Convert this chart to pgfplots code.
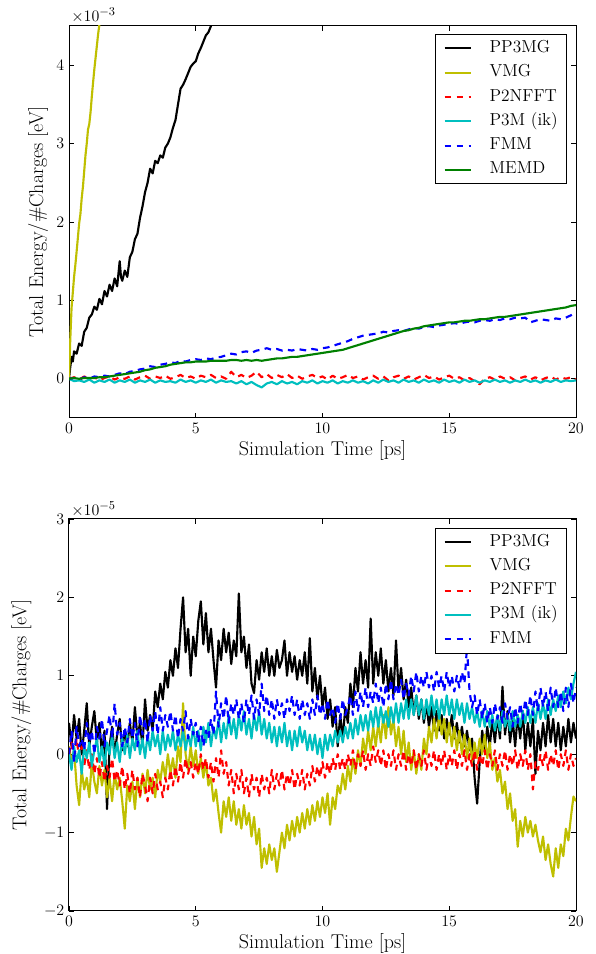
\documentclass[border=0pt]{standalone}
\usepackage{pgfplots}
\usepackage{pgfplotstable}
\pgfplotsset{compat=1.18}
\definecolor{mplk}{rgb}{0,0,0}
\definecolor{mply}{rgb}{0.75,0.75,0}
\definecolor{mplr}{rgb}{1,0,0}
\definecolor{mplc}{rgb}{0,0.75,0.75}
\definecolor{mplb}{rgb}{0,0,1}
\definecolor{mplg}{rgb}{0,0.5,0}

\pgfplotstableread{
t p2 p3m fmm memd
0.0 0.00 0.00 0.00 0.00
0.2 0.02 -0.03 0.01 0.01
0.4 -0.01 -0.02 -0.01 0.00
0.6 0.03 -0.04 0.02 0.01
0.8 0.00 -0.01 0.00 0.01
1.0 0.02 -0.05 0.03 0.01
1.2 -0.02 -0.02 0.02 0.02
1.4 0.01 -0.04 0.04 0.02
1.6 0.03 -0.01 0.03 0.03
1.8 -0.01 -0.05 0.05 0.04
2.0 0.02 -0.02 0.07 0.05
2.2 0.00 -0.04 0.06 0.06
2.4 0.03 -0.01 0.09 0.07
2.6 -0.01 -0.05 0.10 0.08
2.8 0.02 -0.02 0.12 0.09
3.0 0.04 -0.04 0.13 0.11
3.2 0.00 -0.01 0.16 0.12
3.4 0.03 -0.05 0.15 0.14
3.6 0.01 -0.02 0.18 0.15
3.8 0.04 -0.04 0.19 0.16
4.0 0.00 -0.03 0.21 0.18
4.2 0.02 -0.05 0.20 0.19
4.4 0.05 -0.01 0.23 0.20
4.6 0.01 -0.04 0.22 0.21
4.8 0.03 -0.02 0.24 0.21
5.0 0.00 -0.05 0.25 0.22
5.2 0.04 -0.02 0.24 0.22
5.4 0.02 -0.04 0.26 0.22
5.6 0.05 -0.01 0.25 0.23
5.8 0.01 -0.05 0.27 0.23
6.0 0.03 -0.02 0.28 0.23
6.2 0.00 -0.04 0.30 0.23
6.4 0.09 -0.03 0.32 0.24
6.6 0.02 -0.06 0.31 0.24
6.8 0.05 -0.03 0.34 0.23
7.0 0.01 -0.07 0.35 0.24
7.2 0.04 -0.04 0.33 0.23
7.4 0.09 -0.08 0.36 0.24
7.6 0.02 -0.11 0.37 0.23
7.8 0.06 -0.06 0.39 0.24
8.0 0.01 -0.04 0.37 0.25
8.2 0.05 -0.07 0.38 0.26
8.4 0.02 -0.03 0.36 0.26
8.6 0.06 -0.06 0.37 0.27
8.8 0.01 -0.04 0.36 0.28
9.0 0.04 -0.07 0.38 0.28
9.2 0.00 -0.03 0.37 0.29
9.4 0.03 -0.05 0.36 0.30
9.6 0.05 -0.02 0.38 0.31
9.8 0.01 -0.06 0.37 0.32
10.0 0.03 -0.03 0.39 0.33
10.2 -0.01 -0.05 0.40 0.34
10.4 0.04 -0.02 0.42 0.35
10.6 0.00 -0.06 0.44 0.36
10.8 0.02 -0.03 0.46 0.37
11.0 0.05 -0.05 0.48 0.39
11.2 0.01 -0.02 0.51 0.41
11.4 0.03 -0.05 0.53 0.43
11.6 -0.01 -0.03 0.55 0.45
11.8 0.02 -0.06 0.56 0.47
12.0 0.04 -0.02 0.57 0.49
12.2 0.00 -0.05 0.58 0.51
12.4 0.03 -0.01 0.60 0.53
12.6 -0.02 -0.04 0.59 0.55
12.8 0.02 -0.02 0.61 0.57
13.0 0.04 -0.05 0.62 0.59
13.2 0.00 -0.01 0.61 0.61
13.4 0.03 -0.04 0.63 0.62
13.6 -0.01 -0.02 0.65 0.64
13.8 0.02 -0.05 0.64 0.65
14.0 0.05 -0.01 0.66 0.67
14.2 0.01 -0.04 0.67 0.68
14.4 0.03 -0.02 0.66 0.69
14.6 -0.01 -0.05 0.68 0.70
14.8 0.02 -0.01 0.69 0.71
15.0 0.04 -0.04 0.70 0.72
15.2 0.00 -0.02 0.71 0.72
15.4 0.02 -0.05 0.70 0.73
15.6 -0.02 -0.01 0.72 0.74
15.8 0.01 -0.04 0.73 0.74
16.0 -0.03 -0.02 0.72 0.75
16.2 -0.07 -0.05 0.74 0.76
16.4 0.00 -0.02 0.75 0.76
16.6 0.02 -0.04 0.74 0.77
16.8 -0.01 -0.01 0.76 0.78
17.0 0.03 -0.04 0.75 0.79
17.2 0.00 -0.02 0.77 0.79
17.4 0.02 -0.05 0.76 0.80
17.6 -0.02 -0.02 0.78 0.81
17.8 0.01 -0.04 0.77 0.82
18.0 0.03 -0.01 0.78 0.83
18.2 -0.01 -0.04 0.72 0.84
18.4 0.02 -0.02 0.74 0.85
18.6 -0.02 -0.05 0.76 0.86
18.8 0.01 -0.02 0.75 0.87
19.0 0.03 -0.04 0.74 0.88
19.2 -0.01 -0.01 0.77 0.89
19.4 0.02 -0.04 0.76 0.90
19.6 0.00 -0.02 0.78 0.91
19.8 0.02 -0.03 0.81 0.93
20.0 -0.01 -0.02 0.85 0.94
}\topdata

\pgfplotstableread{
t pp
0 0
0.05 0.15
0.1 0.28
0.15 0.22
0.2 0.35
0.3 0.32
0.4 0.45
0.5 0.42
0.6 0.6
0.7 0.65
0.8 0.78
0.9 0.82
1.0 0.92
1.1 0.88
1.2 1.02
1.3 0.95
1.4 1.12
1.5 1.05
1.6 1.2
1.7 1.12
1.8 1.28
1.9 1.18
2.0 1.5
2.05 1.3
2.1 1.25
2.2 1.38
2.3 1.3
2.4 1.55
2.5 1.62
2.6 1.78
2.7 1.85
2.8 2.05
2.9 2.2
3.0 2.38
3.1 2.5
3.2 2.68
3.3 2.62
3.4 2.78
3.5 2.75
3.6 2.85
3.7 2.82
3.8 2.95
3.9 3.0
4.0 3.08
4.1 3.2
4.2 3.3
4.3 3.5
4.4 3.7
4.5 3.75
4.6 3.82
4.7 3.9
4.8 3.98
4.9 4.02
5.0 4.05
5.1 4.15
5.2 4.22
5.3 4.3
5.4 4.38
5.5 4.42
5.6 4.5
5.7 4.6
}\topblack

\pgfplotstableread{
t vmg
0 0
0.05 0.5
0.1 0.9
0.15 1.1
0.2 1.3
0.25 1.45
0.3 1.62
0.35 1.8
0.4 1.98
0.45 2.1
0.5 2.3
0.55 2.45
0.6 2.65
0.65 2.85
0.7 3.0
0.75 3.18
0.8 3.25
0.85 3.4
0.9 3.6
0.95 3.78
1.0 3.95
1.05 4.1
1.1 4.25
1.15 4.4
1.2 4.52
1.25 4.65
}\topyellow

\pgfplotstableread{
t pp vmg p2 p3m fmm
0.0 0.4 0.1 0.0 0.0 0.0
0.1 0.1 -0.1 0.15 -0.2 0.3
0.2 0.5 0.05 -0.1 0.1 -0.1
0.3 0.2 -0.4 0.2 -0.1 0.35
0.4 0.45 -0.65 -0.05 0.05 0.1
0.5 0.0 -0.2 0.1 -0.25 0.2
0.6 0.3 -0.45 -0.15 0.1 0.05
0.7 0.65 -0.3 0.05 -0.05 0.4
0.8 0.1 -0.55 -0.2 0.15 0.15
0.9 0.35 -0.1 0.0 -0.15 0.3
1.0 0.55 -0.35 -0.25 0.05 0.0
1.1 0.15 -0.5 -0.05 0.2 0.35
1.2 0.4 -0.15 -0.3 -0.1 0.2
1.3 0.0 -0.4 -0.1 0.1 0.45
1.4 0.3 -0.2 -0.35 -0.15 0.1
1.5 -0.7 -0.55 -0.15 0.15 0.3
1.6 0.1 -0.3 -0.3 0.0 0.5
1.7 0.35 -0.6 -0.05 0.25 0.2
1.8 0.0 -0.25 -0.35 -0.05 0.65
1.9 0.25 -0.45 -0.2 0.15 0.25
2.0 0.45 -0.3 -0.4 -0.1 0.4
2.1 0.05 -0.6 -0.15 0.2 0.1
2.2 0.3 -0.95 -0.45 0.0 0.35
2.3 0.1 -0.4 -0.25 0.25 0.15
2.4 0.4 -0.6 -0.5 -0.05 0.45
2.5 0.15 -0.35 -0.2 0.2 0.2
2.6 0.6 -0.7 -0.45 0.05 0.4
2.7 0.2 -0.3 -0.3 0.3 0.1
2.8 0.4 -0.55 -0.55 0.0 0.5
2.9 0.1 -0.25 -0.25 0.2 0.25
3.0 0.7 -0.5 -0.4 -0.05 0.45
3.1 0.3 -0.2 -0.6 0.25 0.15
3.2 0.5 -0.45 -0.3 0.05 0.5
3.3 0.3 -0.3 -0.5 0.3 0.3
3.4 0.8 -0.55 -0.25 0.1 0.55
3.5 0.6 -0.2 -0.45 0.25 0.25
3.6 0.9 -0.35 -0.35 0.0 0.6
3.7 0.7 -0.1 -0.55 0.3 0.3
3.8 1.05 -0.3 -0.3 0.05 0.5
3.9 0.85 0.0 -0.45 0.25 0.35
4.0 1.2 -0.25 -0.2 0.1 0.55
4.1 1.0 -0.05 -0.4 0.3 0.3
4.2 1.35 -0.3 -0.15 0.05 0.5
4.3 1.1 0.1 -0.35 0.25 0.2
4.4 1.6 -0.1 -0.1 0.1 0.45
4.5 2.0 0.65 -0.3 0.3 0.3
4.6 1.3 0.0 -0.05 0.05 0.55
4.7 1.6 -0.2 -0.25 0.25 0.2
4.8 1.0 0.1 -0.1 0.1 0.45
4.9 1.5 -0.15 -0.3 0.35 0.25
5.0 1.25 0.05 -0.1 0.1 0.4
5.1 1.7 -0.25 -0.25 0.3 0.15
5.2 1.95 -0.05 0.0 0.05 0.35
5.3 1.4 -0.3 -0.2 0.35 0.1
5.4 1.8 -0.1 -0.05 0.15 0.3
5.5 1.3 -0.4 -0.3 0.4 0.2
5.6 1.6 -0.3 -0.1 0.1 0.45
5.7 1.2 -0.6 -0.35 0.35 0.25
5.8 0.85 -0.45 -0.05 0.2 0.8
5.9 1.45 -0.75 -0.3 0.45 0.35
6.0 1.2 -1.0 0.05 0.15 0.65
6.1 1.6 -0.6 -0.25 0.4 0.45
6.2 1.3 -0.8 -0.1 0.2 0.75
6.3 1.55 -0.55 -0.4 0.5 0.4
6.4 1.15 -0.85 -0.2 0.25 0.65
6.5 1.45 -0.6 -0.5 0.45 0.5
6.6 1.25 -0.9 -0.25 0.2 0.7
6.7 2.05 -0.7 -0.45 0.5 0.45
6.8 1.3 -0.95 -0.2 0.3 0.65
6.9 1.5 -0.65 -0.5 0.55 0.4
7.0 1.1 -0.9 -0.3 0.25 0.7
7.1 1.4 -0.75 -0.55 0.45 0.5
7.2 0.9 -1.05 -0.25 0.2 0.75
7.3 0.78 -0.8 -0.45 0.5 0.45
7.4 1.2 -1.15 -0.3 0.3 0.7
7.5 0.95 -0.95 -0.55 0.55 0.5
7.6 1.3 -1.45 -0.25 0.25 0.9
7.7 1.05 -1.2 -0.45 0.45 0.55
7.8 1.35 -1.4 -0.3 0.2 0.75
7.9 1.0 -1.15 -0.5 0.4 0.5
8.0 1.25 -1.35 -0.2 0.15 0.7
8.1 1.0 -1.2 -0.45 0.35 0.45
8.2 1.33 -1.5 -0.25 0.1 0.7
8.3 1.1 -1.25 -0.4 0.35 0.5
8.4 1.2 -1.0 -0.2 0.15 0.65
8.5 1.45 -1.2 -0.45 0.4 0.45
8.6 1.0 -0.9 -0.25 0.1 0.7
8.7 1.3 -1.1 -0.4 0.3 0.55
8.8 1.05 -0.85 -0.2 0.05 0.75
8.9 1.25 -1.05 -0.45 0.3 0.5
9.0 0.95 -0.8 -0.25 0.1 0.7
9.1 1.2 -1.0 -0.4 0.35 0.45
9.2 1.0 -0.75 -0.2 0.15 0.7
9.3 1.3 -0.95 -0.45 0.3 0.5
9.4 0.9 -0.7 -0.25 0.05 0.65
9.5 1.48 -0.9 -0.4 0.25 0.45
9.6 0.8 -0.65 -0.15 0.05 0.7
9.7 1.1 -0.85 -0.35 0.25 0.5
9.8 0.7 -0.6 -0.15 0.0 0.75
9.9 1.0 -0.8 -0.3 0.2 0.5
10.0 0.6 -0.55 -0.1 -0.05 0.65
10.1 0.85 -0.75 -0.3 0.25 0.45
10.2 0.45 -0.5 -0.1 0.05 0.7
10.3 0.7 -0.9 -0.25 0.25 0.5
10.4 0.35 -0.55 -0.05 0.1 0.6
10.5 0.6 -0.7 -0.2 0.3 0.4
10.6 0.1 -0.4 0.0 0.15 0.65
10.7 0.5 -0.5 -0.2 0.3 0.45
10.8 0.2 -0.25 -0.05 0.15 0.7
10.9 0.6 -0.45 -0.2 0.35 0.5
11.0 0.4 -0.15 0.0 0.2 0.6
11.1 0.9 -0.35 -0.15 0.4 0.75
11.2 0.6 -0.05 0.05 0.2 0.5
11.3 1.1 -0.25 -0.2 0.45 0.8
11.4 0.8 0.05 0.0 0.25 0.55
11.5 1.3 -0.15 -0.15 0.5 0.8
11.6 0.9 0.2 0.05 0.3 0.6
11.7 1.2 0.0 -0.2 0.5 0.85
11.8 0.85 0.3 0.0 0.3 0.6
11.9 1.73 0.05 -0.15 0.55 0.8
12.0 0.9 0.35 0.1 0.35 0.65
12.1 1.3 0.1 -0.1 0.6 0.9
12.2 1.0 0.4 0.05 0.35 0.65
12.3 1.35 0.15 -0.15 0.6 0.85
12.4 0.9 0.5 0.05 0.4 0.6
12.5 1.2 0.2 -0.2 0.55 0.9
12.6 0.8 0.6 0.0 0.35 0.7
12.7 1.1 0.25 -0.15 0.6 0.95
12.8 0.75 0.45 0.05 0.4 0.7
12.9 1.45 0.1 -0.2 0.65 0.9
13.0 0.8 0.35 0.0 0.4 0.75
13.1 1.1 0.0 -0.15 0.65 0.95
13.2 0.7 0.3 0.05 0.45 0.7
13.3 0.95 -0.1 -0.2 0.7 0.9
13.4 0.6 0.15 0.0 0.45 0.75
13.5 0.85 -0.2 -0.15 0.7 1.0
13.6 0.5 0.05 0.05 0.5 0.8
13.7 0.75 -0.25 -0.2 0.75 1.05
13.8 0.45 0.0 0.0 0.5 0.8
13.9 0.7 -0.2 -0.15 0.7 1.0
14.0 0.4 0.2 0.05 0.45 0.85
14.1 0.65 0.0 -0.2 0.7 1.05
14.2 0.35 0.35 0.0 0.5 0.85
14.3 0.6 0.15 -0.15 0.75 1.0
14.4 0.3 0.45 0.05 0.5 0.8
14.5 0.55 0.2 -0.2 0.7 1.05
14.6 0.3 0.5 0.0 0.45 0.85
14.7 0.5 0.25 -0.15 0.7 1.0
14.8 0.2 0.45 0.05 0.5 0.8
14.9 0.45 0.15 -0.2 0.75 1.05
15.0 0.25 0.4 0.0 0.5 0.85
15.1 0.5 0.1 -0.15 0.7 1.0
15.2 0.2 0.35 0.05 0.45 0.8
15.3 0.4 0.05 -0.2 0.7 1.0
15.4 0.15 0.3 0.0 0.5 0.85
15.5 0.35 0.0 -0.15 0.65 1.05
15.6 0.1 0.25 0.05 0.4 0.9
15.7 0.3 -0.05 -0.2 0.65 1.37
15.8 0.05 0.2 0.0 0.45 0.8
15.9 0.2 -0.1 -0.15 0.6 0.6
16.0 -0.3 0.15 0.05 0.4 0.75
16.1 -0.63 -0.05 -0.2 0.55 0.5
16.2 -0.1 0.2 0.0 0.35 0.7
16.3 0.3 0.0 -0.15 0.55 0.45
16.4 0.05 0.25 0.05 0.35 0.65
16.5 0.35 -0.05 -0.2 0.55 0.4
16.6 0.1 0.15 0.0 0.35 0.6
16.7 0.45 -0.2 -0.15 0.5 0.4
16.8 0.15 -0.05 0.05 0.3 0.65
16.9 0.5 -0.35 -0.2 0.5 0.45
17.0 0.2 -0.2 0.0 0.3 0.6
17.1 0.86 -0.5 -0.15 0.55 0.4
17.2 0.25 -0.35 0.05 0.35 0.65
17.3 0.55 -0.7 -0.2 0.5 0.45
17.4 0.15 -0.5 0.0 0.3 0.6
17.5 0.45 -0.85 -0.15 0.55 0.35
17.6 0.1 -0.7 0.05 0.35 0.6
17.7 0.5 -1.18 -0.2 0.5 0.4
17.8 0.2 -0.85 0.0 0.35 0.65
17.9 0.55 -1.05 -0.15 0.55 0.45
18.0 0.05 -0.8 0.05 0.4 0.7
18.1 0.4 -1.0 -0.2 0.6 0.5
18.2 0.1 -0.85 0.0 0.4 0.75
18.3 0.45 -1.05 -0.45 0.6 0.5
18.4 -0.25 -0.9 -0.1 0.4 0.8
18.5 0.3 -1.1 -0.2 0.65 0.55
18.6 0.05 -1.25 0.0 0.45 0.85
18.7 0.4 -1.05 -0.15 0.65 0.6
18.8 0.1 -1.35 0.05 0.45 0.8
18.9 0.5 -1.15 -0.2 0.7 0.55
19.0 0.15 -1.4 0.0 0.5 0.85
19.1 0.45 -1.56 -0.15 0.7 0.6
19.2 0.1 -1.2 0.05 0.55 0.85
19.3 0.4 -1.45 -0.2 0.75 0.6
19.4 0.05 -1.15 0.0 0.6 0.8
19.5 0.35 -1.3 -0.15 0.8 0.55
19.6 0.1 -0.95 0.05 0.65 0.85
19.7 0.45 -1.1 -0.2 0.85 0.6
19.8 0.15 -0.8 0.0 0.7 0.9
19.9 0.4 -0.54 -0.15 0.9 0.65
20.0 0.2 -0.6 -0.05 1.05 0.85
}\bottomdata

\pgfplotsset{
  myaxis/.style={
    scale only axis,
    width=380.25pt, height=294pt,
    anchor=south west,
    clip mode=individual,
    xmin=0, xmax=20,
    xtick={0,5,10,15,20},
    tick align=inside,
    major tick length=3.5pt,
    axis line style={line width=0.75pt},
    tick style={line width=0.6pt, black},
    ticklabel style={font=\fontsize{12.5}{14}\selectfont},
    label style={font=\fontsize{15}{17}\selectfont, inner sep=0pt},
    xlabel={Simulation Time [ps]},
    ylabel={Total Energy/\#Charges [eV]},
    xlabel style={at={(axis description cs:0.5,-0.0574)}, anchor=north},
    legend cell align=left,
    legend style={
      draw=black, line width=0.75pt,
      font=\fontsize{13}{15}\selectfont,
      inner xsep=6.5pt, inner ysep=4pt,
      nodes={inner sep=0pt, text height=9.5pt, text depth=3.5pt},
      row sep=5.2pt,
      column sep=0pt,
      anchor=north east,
    },
    legend image code/.code={\draw[#1, line width=1.5pt] (0pt,0pt) -- (19.5pt,0pt);},
    every axis plot/.append style={line width=1.6pt, line join=round, no markers},
  },
  dashedline/.style={dash pattern=on 5pt off 4pt},
}

\begin{document}
\begin{tikzpicture}
\path[use as bounding box] (0pt,0pt) rectangle (447pt,715.5pt);

\begin{axis}[myaxis,
  at={(51.75pt,402pt)},
  ymin=-0.5, ymax=4.5,
  ytick={0,1,2,3,4},
  ylabel style={at={(axis description cs:-0.0408,0.5)}, anchor=south},
  legend style={at={(axis description cs:0.9822,0.9796)}},
  legend entries={\hspace{13.5pt}PP3MG,\hspace{13.5pt}VMG,\hspace{13.5pt}P2NFFT,\hspace{13.5pt}P3M (ik),\hspace{13.5pt}FMM,\hspace{13.5pt}MEMD},
]
\addplot[mplk] table[x=t,y=pp] {\topblack};
\addplot[mply] table[x=t,y=vmg] {\topyellow};
\addplot[mplr, dashedline] table[x=t,y=p2] {\topdata};
\addplot[mplc] table[x=t,y=p3m] {\topdata};
\addplot[mplb, dashedline] table[x=t,y=fmm] {\topdata};
\addplot[mplg] table[x=t,y=memd] {\topdata};
\node[anchor=south west, inner sep=0pt, font=\fontsize{12.5}{14}\selectfont] at (axis description cs:0.004,1.008) {$\times10^{-3}$};
\end{axis}

\begin{axis}[myaxis,
  at={(51.75pt,32.25pt)},
  ymin=-2, ymax=3,
  ytick={-2,-1,0,1,2,3},
  ylabel style={at={(axis description cs:-0.0736,0.5)}, anchor=south},
  legend style={at={(axis description cs:0.9822,0.978)}},
  legend entries={\hspace{13.5pt}PP3MG,\hspace{13.5pt}VMG,\hspace{13.5pt}P2NFFT,\hspace{13.5pt}P3M (ik),\hspace{13.5pt}FMM},
]
\addplot[mplk] table[x=t,y=pp] {\bottomdata};
\addplot[mply] table[x=t,y=vmg] {\bottomdata};
\addplot[mplr, dashedline] table[x=t,y=p2] {\bottomdata};
\addplot[mplc] table[x=t,y=p3m] {\bottomdata};
\addplot[mplb, dashedline] table[x=t,y=fmm] {\bottomdata};
\node[anchor=south west, inner sep=0pt, font=\fontsize{12.5}{14}\selectfont] at (axis description cs:0.004,1.006) {$\times10^{-5}$};
\end{axis}
\end{tikzpicture}
\end{document}
